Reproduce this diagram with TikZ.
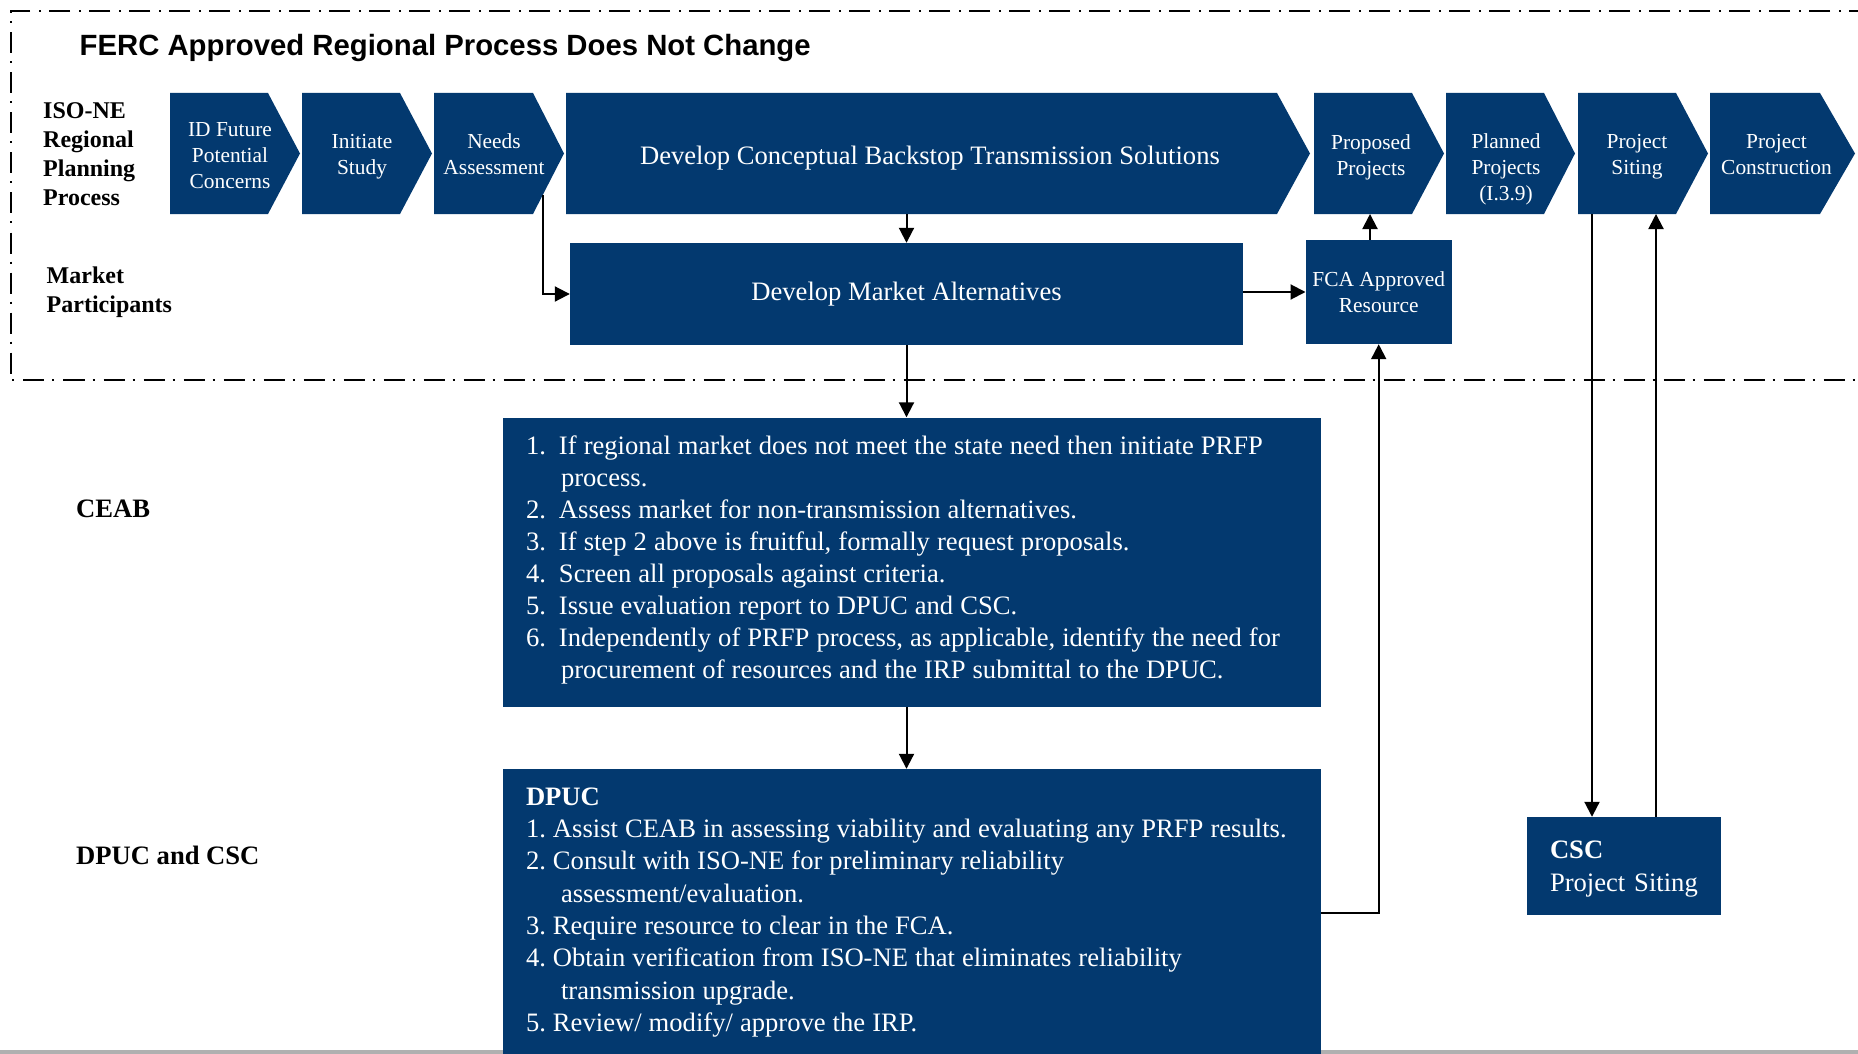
\documentclass[tikz,border=0pt]{standalone}
\usepackage{fontspec}
\setmainfont{Liberation Serif}
\newfontfamily\sansfnt{Liberation Sans}
\usetikzlibrary{arrows.meta}
\definecolor{boxblue}{HTML}{03396F}
\definecolor{edgegray}{HTML}{B0B0B0}
\newcommand\listspace{\frenchspacing\spaceskip=0.265em\relax}
\tikzset{
  chev/.style={fill=boxblue},
  chevtext/.style={text=white,align=center,inner sep=0pt,font=\fontsize{21.4}{26}\selectfont},
  box/.style={fill=boxblue,text=white,inner sep=0pt},
  listtext/.style={text=white,inner sep=0pt,text width=790pt,align=left,font=\fontsize{26.6}{32.1}\selectfont},
  lanelabel/.style={anchor=west,align=left,inner sep=0pt,font=\fontsize{24}{29}\selectfont\bfseries},
  arr/.style={line width=2pt,-{Triangle[length=15pt,width=15pt]}},
}
\begin{document}
\begin{tikzpicture}[x=1pt,y=-1pt]
  \useasboundingbox (0,0) rectangle (1858,1054);
  \fill[edgegray] (0,1050) rectangle (1858,1054);
  \draw[line width=2pt,dash pattern=on 21pt off 8pt on 2pt off 9pt] (1870,11.5) -- (11,11.5) -- (11,380) -- (1870,380);
  \node[anchor=base west,inner sep=0pt,font=\sansfnt\bfseries\fontsize{29.3}{34}\selectfont] (title) at (79.5,55.5) {FERC Approved Regional Process Does Not Change};

  \node[lanelabel] (iso) at (43,154.5) {ISO-NE\\Regional\\Planning\\Process};
  \node[lanelabel] (mp) at (46.5,292.5) {Market\\Participants};
  \node[lanelabel,font=\fontsize{26.6}{32}\selectfont\bfseries] (ceablab) at (76,509) {CEAB};
  \node[lanelabel,font=\fontsize{26.6}{32}\selectfont\bfseries] (dpuclab) at (76,855) {DPUC and CSC};

  \fill[chev] (170,93) -- (268,93) -- (300,153.5) -- (268,214) -- (170,214) -- cycle;
  \fill[chev] (302,93) -- (400,93) -- (432,153.5) -- (400,214) -- (302,214) -- cycle;
  \fill[chev] (434,93) -- (533,93) -- (564,153.5) -- (533,214) -- (434,214) -- cycle;
  \fill[chev] (566,93) -- (1277,93) -- (1310,153.5) -- (1277,214) -- (566,214) -- cycle;
  \fill[chev] (1314,93) -- (1412,93) -- (1444,153.5) -- (1412,214) -- (1314,214) -- cycle;
  \fill[chev] (1446,93) -- (1544,93) -- (1575,153.5) -- (1544,214) -- (1446,214) -- cycle;
  \fill[chev] (1578,93) -- (1676,93) -- (1708,153.5) -- (1676,214) -- (1578,214) -- cycle;
  \fill[chev] (1710,93) -- (1820,93) -- (1855,153.5) -- (1820,214) -- (1710,214) -- cycle;

  \node[chevtext] (idf) at (230,156) {ID Future\\Potential\\Concerns};
  \node[chevtext] (ini) at (362,156.5) {Initiate\\Study};
  \node[chevtext] (nas) at (494,154.5) {Needs\\Assessment};
  \node[chevtext,font=\fontsize{26.6}{32}\selectfont] (dcb) at (930,158) {Develop Conceptual Backstop Transmission Solutions};
  \node[chevtext] (prp) at (1371,157) {Proposed\\Projects};
  \node[chevtext] (plp) at (1506,169.5) {Planned\\Projects\\(I.3.9)};
  \node[chevtext] (psi) at (1637,157) {Project\\Siting};
  \node[chevtext] (pco) at (1776.5,155) {Project\\Construction};

  \coordinate (nas-e) at (543,194.5);
  \coordinate (dcb-b) at (906.5,214);
  \coordinate (prp-b) at (1370,214);
  \coordinate (psi-b) at (1592,214);
  \coordinate (psi-c) at (1656,214);

  \node[box,minimum width=673pt,minimum height=102pt,font=\fontsize{26.6}{32}\selectfont] (mkt) at (906.5,294) {Develop Market Alternatives};
  \node[box,minimum width=146pt,minimum height=104pt,align=center,font=\fontsize{21.4}{26}\selectfont] (fca) at (1378.7,292) {FCA Approved\\Resource};
  \node[box,minimum width=818pt,minimum height=289pt] (ceab) at (912,562) {};
  \node[listtext,anchor=west] (ceabtext) at ([xshift=23pt,yshift=2pt]ceab.west) {\listspace
    \makebox[33pt][l]{1.}If regional market does not meet the state need then initiate PRFP\\
    \hspace*{35pt}process.\\
    \makebox[33pt][l]{2.}Assess market for non-transmission alternatives.\\
    \makebox[33pt][l]{3.}If step 2 above is fruitful, formally request proposals.\\
    \makebox[33pt][l]{4.}Screen all proposals against criteria.\\
    \makebox[33pt][l]{5.}Issue evaluation report to DPUC and CSC.\\
    \makebox[33pt][l]{6.}Independently of PRFP process, as applicable, identify the need for\\
    \hspace*{35pt}procurement of resources and the IRP submittal to the DPUC.};
  \node[box,minimum width=818pt,minimum height=288pt] (dpuc) at (912,913) {};
  \node[listtext,anchor=west,font=\fontsize{26.6}{32.3}\selectfont] (dpuctext) at ([xshift=23pt,yshift=0.6pt]dpuc.west) {\listspace
    \textbf{DPUC}\\
    1. Assist CEAB in assessing viability and evaluating any PRFP results.\\
    2. Consult with ISO-NE for preliminary reliability\\
    \hspace*{35pt}assessment/evaluation.\\
    3. Require resource to clear in the FCA.\\
    4. Obtain verification from ISO-NE that eliminates reliability\\
    \hspace*{35pt}transmission upgrade.\\
    5. Review/ modify/ approve the IRP.};
  \node[box,minimum width=194pt,minimum height=98pt] (csc) at (1624,866) {};
  \node[text=white,inner sep=0pt,text width=148pt,align=left,font=\fontsize{26.6}{33}\selectfont] (csctext) at ([yshift=-3pt]csc.center) {\textbf{CSC}\\Project Siting};

  \draw[arr] (nas-e) |- (mkt.west);
  \draw[arr] (dcb-b) -- (mkt.north);
  \draw[arr] (mkt.east |- fca.west) -- (fca.west);
  \draw[arr] (fca.north -| prp-b) -- (prp-b);
  \draw[arr] (mkt.south) -- (mkt.south |- ceab.north);
  \draw[arr] (mkt.south |- ceab.south) -- (mkt.south |- dpuc.north);
  \draw[arr] (dpuc.east) -| (fca.south);
  \draw[arr] (psi-b) -- (psi-b |- csc.north);
  \draw[arr] (psi-c |- csc.north) -- (psi-c);
\end{tikzpicture}
\end{document}
